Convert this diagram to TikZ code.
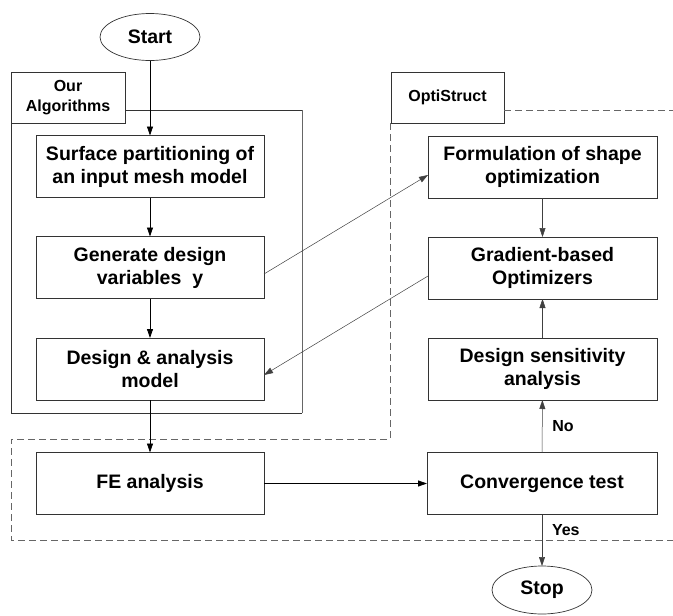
\documentclass[tikz,border=0pt]{standalone}
\usepackage{fontspec}
\setmainfont{Liberation Sans}
\usetikzlibrary{arrows.meta,shapes.geometric}
\begin{document}
\begin{tikzpicture}[x=1pt,y=-1pt,
  every node/.style={inner sep=0pt,outer sep=0pt},
  proc/.style={draw=black!80,line width=0.9pt,minimum width=228pt,minimum height=62pt,align=center,font=\fontsize{19.5}{23}\selectfont\bfseries},
  term/.style={draw=black!80,ellipse,line width=0.7pt,minimum width=100pt,minimum height=47pt,font=\fontsize{19.5}{23}\selectfont\bfseries},
  tag/.style={draw=black!80,line width=0.8pt,align=center,font=\fontsize{16}{20}\selectfont\bfseries},
  flow/.style={-{Triangle[length=9pt,width=6pt]},line width=0.8pt,black},
  thinflow/.style={-{Triangle[length=9pt,width=6pt]},line width=0.5pt,black!75},
  grp/.style={dashed,dash pattern=on 7pt off 4pt,line width=0.8pt,black!60},
  lbl/.style={text=black,font=\fontsize{16}{20}\selectfont\bfseries}]
\useasboundingbox (0,0) rectangle (673,616);
% group frames
\node[tag,minimum width=114pt,minimum height=51pt] (ourtag) at (68,97.5) {Our\\Algorithms};
\draw[line width=0.6pt,black!80] (125,110) -- (302,110);
\draw[line width=0.5pt,black!60] (302,110) -- (302,413);
\draw[line width=0.8pt,black!80] (302,413) -- (11,413) -- (11,123);
\node[tag,minimum width=113pt,minimum height=51pt] (opttag) at (447.5,97.5) {OptiStruct};
\draw[grp] (504,110) -- (673,110);
\draw[grp] (390,123) -- (390,439) -- (11,439) -- (11,540) -- (673,540);
% nodes
\node[term] (start) at (150,37) {Start};
\node[proc] (b1) at (150,166.5) {Surface partitioning of\\an input mesh model};
\node[proc] (b2) at (150,267.5) {Generate design\\variables\ \ y};
\node[proc] (b3) at (150,369) {Design \& analysis\\model};
\node[proc] (fe) at (150,483.5) {FE analysis};
\node[proc,minimum width=229pt] (f1) at (542.5,167) {Formulation of shape\\optimization};
\node[proc,minimum width=229pt] (gr) at (542.5,268) {Gradient-based\\Optimizers};
\node[proc,minimum width=229pt] (ds) at (542.5,369) {Design sensitivity\\analysis};
\node[proc,minimum width=230pt] (cv) at (542,483.5) {Convergence test};
\node[term,minimum height=48pt] (stop) at (542,590) {Stop};
% connectors
\draw[flow] (start) -- (b1);
\draw[flow] (b1) -- (b2);
\draw[flow] (b2) -- (b3);
\draw[flow] (b3) -- (fe);
\draw[flow] (fe) -- (cv);
\draw[thinflow] (cv) -- node[lbl,right=10pt] {No} (ds);
\draw[thinflow] (ds) -- (gr);
\draw[thinflow] (f1) -- (gr);
\draw[thinflow] (cv) -- node[lbl,right=10pt,pos=0.3] {Yes} (stop);
\draw[thinflow] ([yshift=-6.5pt]b2.east) -- ([yshift=-8pt]f1.west);
\draw[thinflow] ([yshift=-8pt]gr.west) -- ([yshift=-6pt]b3.east);
\end{tikzpicture}
\end{document}
